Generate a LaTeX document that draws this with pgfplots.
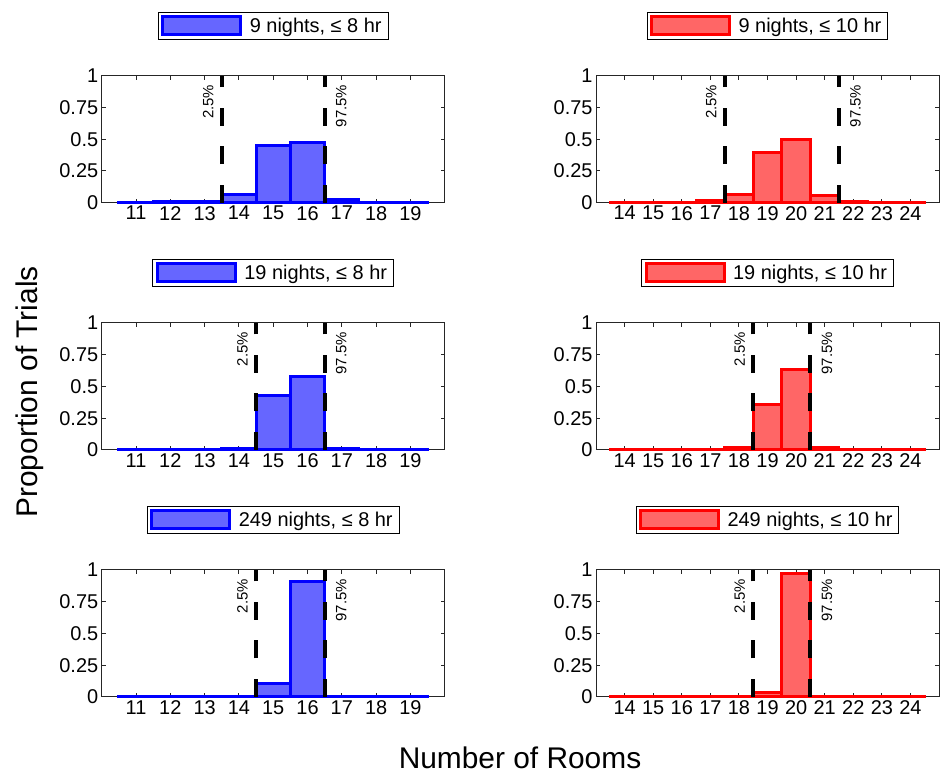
\documentclass[border=0pt]{standalone}
\usepackage{fontspec}
\setmainfont{Liberation Sans}
\usepackage{pgfplots}
\pgfplotsset{compat=1.18}

\definecolor{axgray}{RGB}{38,38,38}
\definecolor{bfill}{RGB}{102,102,255}
\definecolor{rfill}{RGB}{255,102,102}

\tikzset{plab/.style={rotate=90, inner sep=0pt, font=\fontsize{15}{18}\selectfont}}

\pgfplotsset{
  panel/.style={scale only axis, width=343bp, height=127bp, anchor=south west,
    ymin=0, ymax=1, ytick={0,0.25,0.5,0.75,1}, yticklabels={0,0.25,0.5,0.75,1},
    tick align=inside, xtick pos=both, ytick pos=both, major tick length=4bp,
    axis line style={axgray, line width=1bp},
    every tick/.style={axgray, line width=1bp},
    tick label style={font=\fontsize{20}{24}\selectfont, text=black},
    /pgf/number format/assume math mode=true,
    clip=false,
    legend style={at={(0.5,1.394)}, anchor=center, draw=black, line width=1bp,
      fill=white, font=\fontsize{20}{24}\selectfont, inner xsep=3bp, inner ysep=3bp,
      /tikz/every odd column/.append style={column sep=4bp},
      /tikz/every even column/.append style={column sep=0bp},
      nodes={inner xsep=3.5bp}},
    legend cell align=left},
  leftp/.style={panel, xmin=10, xmax=20, xtick={11,...,19}},
  rightp/.style={panel, xmin=13, xmax=25, xtick={14,...,24}},
  hist/.style={ybar, bar width=1, bar shift=0pt, line width=3bp,
    legend image code/.code={\draw[##1] (0bp,-9bp) rectangle (78bp,9bp);}},
  bhist/.style={hist, draw=blue, fill=bfill},
  rhist/.style={hist, draw=red, fill=rfill},
  pline/.style={black, line width=4bp, dash pattern=on 18bp off 20.5bp, forget plot},
}

\begin{document}
\begin{tikzpicture}
\path[use as bounding box] (0,0) rectangle (940bp,776bp);

% row 1
\begin{axis}[leftp, at={(101.7bp,573.3bp)}]
\addplot[bhist] coordinates {(11,0.004)(12,0.008)(13,0.01)(14,0.068)(15,0.45)(16,0.474)(17,0.024)(18,0.005)(19,0.004)};
\addlegendentry{9 nights, ≤ 8 hr}
\addplot[pline] coordinates {(13.5,0)(13.5,1)};
\addplot[pline] coordinates {(16.5,0)(16.5,1)};
\node[plab, anchor=south east] at ([xshift=-8bp,yshift=-9bp]axis cs:13.5,1) {2.5\%};
\node[plab, anchor=north east] at ([xshift=11bp,yshift=-9bp]axis cs:16.5,1) {97.5\%};
\end{axis}

\begin{axis}[rightp, at={(596bp,573.3bp)}]
\addplot[rhist] coordinates {(14,0.002)(15,0.002)(16,0.005)(17,0.015)(18,0.068)(19,0.395)(20,0.5)(21,0.053)(22,0.01)(23,0.003)(24,0.002)};
\addlegendentry{9 nights, ≤ 10 hr}
\addplot[pline] coordinates {(17.5,0)(17.5,1)};
\addplot[pline] coordinates {(21.5,0)(21.5,1)};
\node[plab, anchor=south east] at ([xshift=-8bp,yshift=-9bp]axis cs:17.5,1) {2.5\%};
\node[plab, anchor=north east] at ([xshift=11bp,yshift=-9bp]axis cs:21.5,1) {97.5\%};
\end{axis}

% row 2
\begin{axis}[leftp, at={(101.7bp,326bp)}]
\addplot[bhist] coordinates {(11,0.002)(12,0.002)(13,0.002)(14,0.013)(15,0.43)(16,0.576)(17,0.008)(18,0.002)(19,0.002)};
\addlegendentry{19 nights, ≤ 8 hr}
\addplot[pline] coordinates {(14.5,0)(14.5,1)};
\addplot[pline] coordinates {(16.5,0)(16.5,1)};
\node[plab, anchor=south east] at ([xshift=-8bp,yshift=-9bp]axis cs:14.5,1) {2.5\%};
\node[plab, anchor=north east] at ([xshift=11bp,yshift=-9bp]axis cs:16.5,1) {97.5\%};
\end{axis}

\begin{axis}[rightp, at={(596bp,326bp)}]
\addplot[rhist] coordinates {(14,0.002)(15,0.002)(16,0.002)(17,0.002)(18,0.016)(19,0.36)(20,0.63)(21,0.018)(22,0.002)(23,0.002)(24,0.002)};
\addlegendentry{19 nights, ≤ 10 hr}
\addplot[pline] coordinates {(18.5,0)(18.5,1)};
\addplot[pline] coordinates {(20.5,0)(20.5,1)};
\node[plab, anchor=south east] at ([xshift=-8bp,yshift=-9bp]axis cs:18.5,1) {2.5\%};
\node[plab, anchor=north east] at ([xshift=11bp,yshift=-9bp]axis cs:20.5,1) {97.5\%};
\end{axis}

% row 3
\begin{axis}[leftp, at={(101.7bp,79bp)}]
\addplot[bhist] coordinates {(11,0.001)(12,0.001)(13,0.001)(14,0.001)(15,0.108)(16,0.91)(17,0.001)(18,0.001)(19,0.001)};
\addlegendentry{249 nights, ≤ 8 hr}
\addplot[pline] coordinates {(14.5,0)(14.5,1)};
\addplot[pline] coordinates {(16.5,0)(16.5,1)};
\node[plab, anchor=south east] at ([xshift=-8bp,yshift=-9bp]axis cs:14.5,1) {2.5\%};
\node[plab, anchor=north east] at ([xshift=11bp,yshift=-9bp]axis cs:16.5,1) {97.5\%};
\end{axis}

\begin{axis}[rightp, at={(596bp,79bp)}]
\addplot[rhist] coordinates {(14,0.001)(15,0.001)(16,0.001)(17,0.001)(18,0.001)(19,0.037)(20,0.975)(21,0.001)(22,0.001)(23,0.001)(24,0.001)};
\addlegendentry{249 nights, ≤ 10 hr}
\addplot[pline] coordinates {(18.5,0)(18.5,1)};
\addplot[pline] coordinates {(20.5,0)(20.5,1)};
\node[plab, anchor=south east] at ([xshift=-8bp,yshift=-9bp]axis cs:18.5,1) {2.5\%};
\node[plab, anchor=north east] at ([xshift=11bp,yshift=-9bp]axis cs:20.5,1) {97.5\%};
\end{axis}

\node[rotate=90, anchor=base, font=\fontsize{30}{36}\selectfont] at (37bp,384bp) {Proportion of Trials};
\node[anchor=base, inner sep=0pt, font=\fontsize{30}{36}\selectfont] at (520bp,8bp) {Number of Rooms};
\end{tikzpicture}
\end{document}
